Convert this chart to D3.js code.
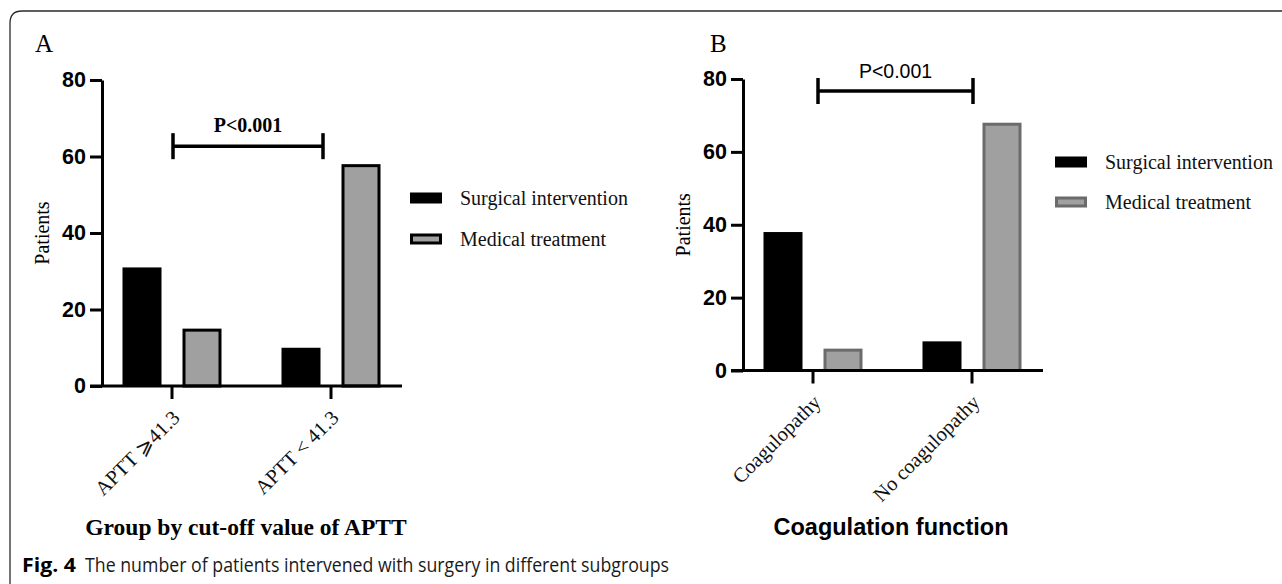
<!DOCTYPE html>
<html>
<head>
<meta charset="utf-8">
<script src="https://cdn.jsdelivr.net/npm/d3@7"></script>
<style>
  body { margin: 0; background: #fff; }
  svg { display: block; }
  .serif { font-family: 'Liberation Serif', 'Times New Roman', serif; }
  .sans { font-family: 'Liberation Sans', Arial, sans-serif; }
</style>
</head>
<body>
<svg id="fig" width="1282" height="584"></svg>
<script>
'use strict';

(() => {

  //data
  const seriesNames = ['Surgical intervention', 'Medical treatment'];
  const yTicks = [0, 20, 40, 60, 80];
  const pText = 'P<0.001';

  const apttCats = ['APTT \u2A7E41.3', 'APTT < 41.3'];
  const apttSurgical = [31, 10];
  const apttMedical = [15, 58];

  const coagCats = ['Coagulopathy', 'No coagulopathy'];
  const coagSurgical = [38, 8];
  const coagMedical = [6, 68];

  const svg = d3.select('#fig');

  //outer frame, rounded at top-left
  svg.append('path')
    .attr('d', 'M 1282 11 H 22 Q 10 11 10 23 V 584')
    .attr('fill', 'none')
    .attr('stroke', '#2a2a2a')
    .attr('stroke-width', 1.3);

  //caption
  svg.append('text')
    .attr('x', 22)
    .attr('y', 572)
    .attr('font-family', "'Open Sans', 'Noto Sans', sans-serif")
    .attr('font-weight', 'bold')
    .attr('font-size', 19)
    .attr('textLength', 54)
    .attr('lengthAdjust', 'spacingAndGlyphs')
    .text('Fig. 4');
  svg.append('text')
    .attr('x', 85)
    .attr('y', 572)
    .attr('font-family', "'Open Sans', 'Noto Sans', sans-serif")
    .attr('font-size', 19.5)
    .attr('fill', '#1a1a1a')
    .attr('textLength', 584)
    .attr('lengthAdjust', 'spacingAndGlyphs')
    .text('The number of patients intervened with surgery in different subgroups');

  function drawPanel(p) {
    const g = svg.append('g').attr('transform', `translate(${p.left}, 0)`);
    const plotW = 300;

    const y = d3.scaleLinear().domain([0, 80]).range([p.y0, p.yTop]);
    //category centres, 159px apart
    const x = d3.scalePoint().domain(p.cats).range([70, 229]);
    const sub = d3.scaleBand().domain(seriesNames).range([-49.5, 49.5]).paddingInner(0.35);

    const rows = p.cats.map((c, i) => ({ cat: c, vals: [p.surgical[i], p.medical[i]] }));

    //bars
    rows.forEach((r) => {
      r.vals.forEach((v, j) => {
        const bx = x(r.cat) + sub(seriesNames[j]);
        const bw = sub.bandwidth();
        if (j === 0) {
          g.append('rect')
            .attr('x', bx)
            .attr('y', y(v))
            .attr('width', bw)
            .attr('height', y(0) - y(v))
            .attr('fill', '#000');
        } else {
          g.append('rect')
            .attr('x', bx + 1.5)
            .attr('y', y(v) + 1.5)
            .attr('width', bw - 3)
            .attr('height', y(0) - y(v) - 1.5)
            .attr('fill', '#a0a0a0')
            .attr('stroke', p.greyStroke)
            .attr('stroke-width', 3);
        }
      });
    });

    //y axis
    const yAxis = g.append('g')
      .call(d3.axisLeft(y).tickValues(yTicks).tickSize(12).tickSizeOuter(0).tickPadding(4));
    yAxis.select('.domain').attr('stroke-width', 3).attr('stroke', '#000');
    yAxis.selectAll('.tick line').attr('stroke-width', 3).attr('stroke', '#000');
    yAxis.selectAll('.tick text')
      .attr('class', 'sans')
      .attr('font-size', 21.5)
      .attr('font-weight', 'bold')
      .attr('fill', '#000');

    //x axis line and category ticks
    g.append('line')
      .attr('x1', -12).attr('x2', plotW)
      .attr('y1', y(0)).attr('y2', y(0))
      .attr('stroke', '#000').attr('stroke-width', 3);
    p.cats.forEach((c) => {
      g.append('line')
        .attr('x1', x(c)).attr('x2', x(c))
        .attr('y1', y(0)).attr('y2', y(0) + 13)
        .attr('stroke', '#000').attr('stroke-width', 3);
      g.append('text')
        .attr('class', 'serif')
        .attr('font-size', 20.5)
        .attr('text-anchor', 'end')
        .attr('fill', '#111')
        .attr('transform', `translate(${x(c) + 9}, ${y(0) + 33}) rotate(-45)`)
        .text(c);
    });

    //significance bracket
    const by = y(p.bracketVal);
    const bx1 = x(p.cats[0]) + p.bracketPad[0];
    const bx2 = x(p.cats[1]) + p.bracketPad[1];
    g.append('line')
      .attr('x1', bx1).attr('x2', bx2).attr('y1', by).attr('y2', by)
      .attr('stroke', '#000').attr('stroke-width', 3.5);
    [bx1, bx2].forEach((bx) => {
      g.append('line')
        .attr('x1', bx).attr('x2', bx).attr('y1', by - 13).attr('y2', by + 13)
        .attr('stroke', '#000').attr('stroke-width', 3.5);
    });
    g.append('text')
      .attr('class', p.pFont)
      .attr('x', (bx1 + bx2) / 2)
      .attr('y', by - p.pGap)
      .attr('text-anchor', 'middle')
      .attr('font-size', p.pSize)
      .attr('font-weight', p.pWeight)
      .text(pText);

    //panel letter
    g.append('text')
      .attr('class', 'serif')
      .attr('x', p.letterX)
      .attr('y', 52)
      .attr('font-size', 25)
      .text(p.letter);

    //y title
    const yMid = (p.y0 + p.yTop) / 2;
    g.append('text')
      .attr('class', 'serif')
      .attr('font-size', 20)
      .attr('text-anchor', 'middle')
      .attr('transform', `translate(${p.yTitleX}, ${yMid}) rotate(-90)`)
      .text('Patients');

    //x title
    g.append('text')
      .attr('class', p.xTitleFont)
      .attr('x', p.xTitleX)
      .attr('y', 535)
      .attr('text-anchor', 'middle')
      .attr('font-size', p.xTitleSize)
      .attr('font-weight', 'bold')
      .text(p.xTitle);

    //legend
    seriesNames.forEach((s, j) => {
      const ly = p.legendY[j];
      const sw = g.append('rect')
        .attr('x', p.legendX + 1.5)
        .attr('y', ly - 5.5 + 1.5)
        .attr('width', 29)
        .attr('height', 8);
      if (j === 0) {
        sw.attr('fill', '#000').attr('stroke', '#000').attr('stroke-width', 3);
      } else {
        sw.attr('fill', '#a0a0a0').attr('stroke', p.greyStroke).attr('stroke-width', 3);
      }
      g.append('text')
        .attr('class', 'serif')
        .attr('x', p.legendX + 50)
        .attr('y', ly + 7)
        .attr('font-size', 20)
        .attr('fill', '#111')
        .text(s);
    });
  }

  drawPanel({
    left: 102, y0: 386, yTop: 80,
    cats: apttCats, surgical: apttSurgical, medical: apttMedical,
    greyStroke: '#000',
    bracketVal: 62.7, bracketPad: [1, -8],
    pFont: 'serif', pSize: 20, pWeight: 'bold', pGap: 14,
    letter: 'A', letterX: -67,
    yTitleX: -53,
    xTitle: 'Group by cut-off value of APTT', xTitleFont: 'serif', xTitleSize: 23.5, xTitleX: 144,
    legendX: 308, legendY: [198, 239]
  });

  drawPanel({
    left: 743, y0: 370.5, yTop: 79,
    cats: coagCats, surgical: coagSurgical, medical: coagMedical,
    greyStroke: '#6b6b6b',
    bracketVal: 76.7, bracketPad: [5, 1],
    pFont: 'sans', pSize: 19.5, pWeight: 'normal', pGap: 13,
    letter: 'B', letterX: -33,
    yTitleX: -53,
    xTitle: 'Coagulation function', xTitleFont: 'sans', xTitleSize: 23.5, xTitleX: 148,
    legendX: 312, legendY: [162, 202]
  });

})();
</script>
</body>
</html>
